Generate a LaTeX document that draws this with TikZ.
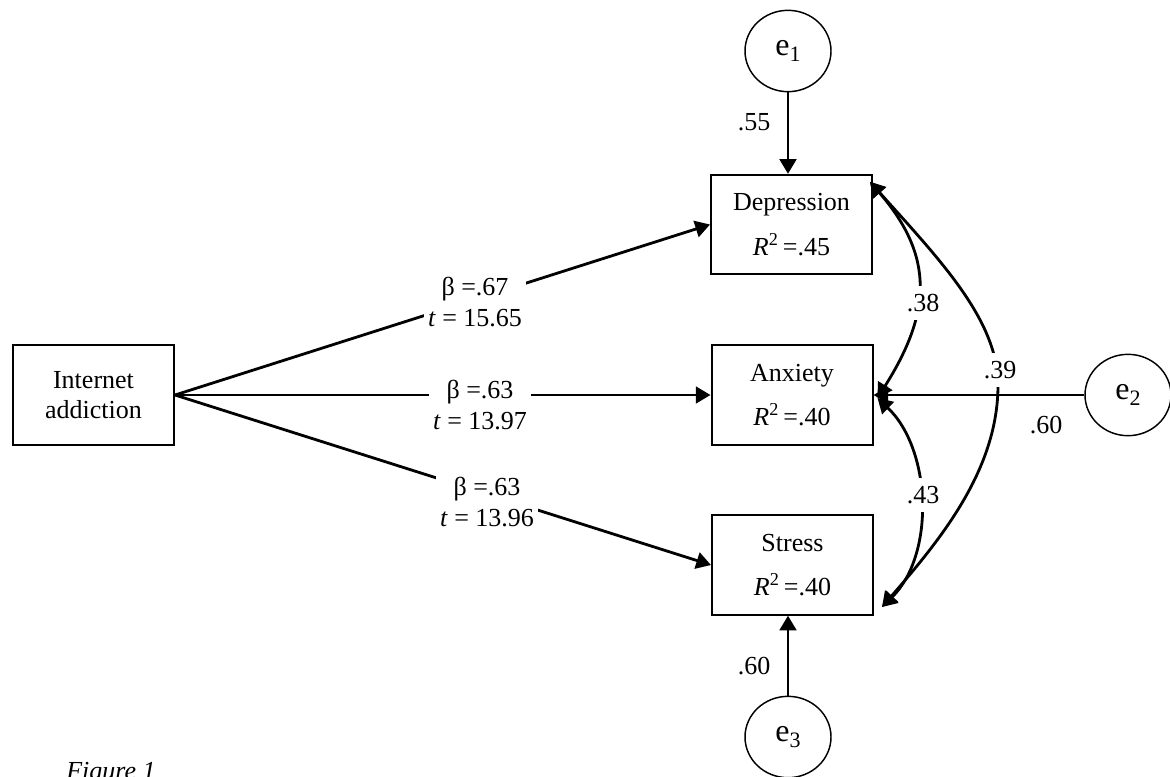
\documentclass[tikz,border=0pt]{standalone}
\usepackage{fontspec}
\setmainfont{Liberation Serif}
\usetikzlibrary{arrows.meta,calc,shapes.geometric}
\begin{document}
\begin{tikzpicture}[x=0.75pt,y=-0.75pt,
  font=\fontsize{19.5}{22.5}\selectfont,
  box/.style={draw,line width=1.5pt,minimum width=120.75pt,minimum height=74.5pt,align=center,inner sep=0pt},
  err/.style={draw,ellipse,line width=1.1pt,minimum width=64.5pt,minimum height=61pt,inner sep=0pt,font=\fontsize{24}{24}\selectfont},
  pathar/.style={line width=2.1pt,-{Triangle[length=11pt,width=12.5pt]}},
  cov/.style={line width=2.1pt,{Triangle[length=11pt,width=12.5pt]}-{Triangle[length=11pt,width=12.5pt]}},
  lab/.style={fill=white,inner sep=3pt,align=center,font=\fontsize{19.5}{23.25}\selectfont},
  num/.style={fill=white,inner xsep=2pt,inner ysep=6pt}]
\useasboundingbox (0,0) rectangle (1170,776);
% boxes
\node[box] (ia) at (93.5,395) {Internet\\addiction};
\node[box] (dep) at (791.5,224.5) {Depression\\[11pt]\textit{R}\textsuperscript{2}\,=.45};
\node[box] (anx) at (792,395) {Anxiety\\[11pt]\textit{R}\textsuperscript{2}\,=.40};
\node[box] (str) at (792.5,565) {Stress\\[11pt]\textit{R}\textsuperscript{2}\,=.40};
% error terms
\newcommand{\errlab}[1]{e\raisebox{-0.35ex}{\fontsize{16.5}{16.5}\selectfont #1}}
\node[err] (e1) at (788,51) {\errlab{1}};
\node[err] (e2) at (1128,395) {\errlab{2}};
\node[err] (e3) at (788,737) {\errlab{3}};
% error paths
\draw[pathar] (e1) -- (e1 |- dep.north);
\draw[pathar] (e2) -- (anx.east);
\draw[pathar] (e3) -- (e3 |- str.south);
\node[inner sep=0pt] (l55) at (754,122) {.55};
\node[inner sep=0pt] (l60a) at (1046,425) {.60};
\node[inner sep=0pt] (l60b) at (754,666) {.60};
% structural paths
\draw[pathar] (ia.east) -- (dep.west);
\draw[pathar] (ia.east) -- (anx.west);
\draw[pathar] (ia.east) -- (str.west);
\node[lab] (b1) at (475,302) {β =.67\\\textit{t} = 15.65};
\node[lab] (b2) at (480,405) {β =.63\\\textit{t} = 13.97};
\node[lab] (b3) at (487,502) {β =.63\\\textit{t} = 13.96};
% covariances
\coordinate (dtip) at ($(dep.north east)+(-3,8)$);
\coordinate (atip) at ($(anx.east)+(4,3)$);
\coordinate (stip) at ($(str.east)+(8,42)$);
\coordinate (c39) at (998,385);
\draw[cov] (dtip) .. controls (935,257) and (931,313) .. (atip);
\draw[cov] (atip) .. controls (932,450) and (935,555) .. (stip);
\draw[line width=2.1pt,{Triangle[length=11pt,width=12.5pt]}-] (dtip) .. controls (940,260) and (998,320) .. (c39);
\draw[line width=2.1pt,-{Triangle[length=11pt,width=12.5pt]}] (c39) .. controls (998,470) and (940,540) .. (stip);
\node[num] (l38) at (923,303) {.38};
\node[num] (l43) at (923,495) {.43};
\node[num] (l39) at (1000,370) {.39};
% caption
\node[anchor=base west,inner sep=0pt,font=\itshape\fontsize{19.5}{22}\selectfont] (fig) at (66,779) {Figure 1};
\end{tikzpicture}
\end{document}
